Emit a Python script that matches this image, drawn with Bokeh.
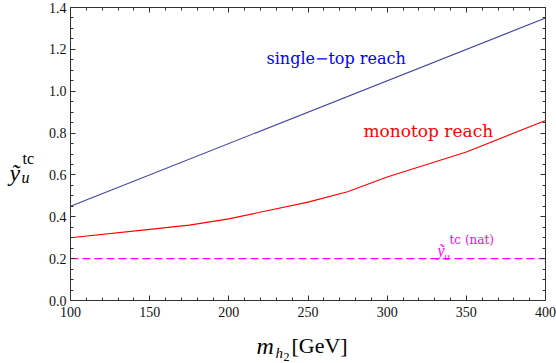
from bokeh.plotting import figure
from bokeh.models import (Range1d, LinearAxis, SingleIntervalTicker, PrintfTickFormatter, Label)
from bokeh.embed import file_html
from bokeh.resources import INLINE

# ---- data ----
mass_single = [100, 400]
single_top = [0.45, 1.35]

mass_mono = [100, 150, 175, 200, 250, 275, 300, 350, 400]
monotop = [0.30, 0.34, 0.36, 0.39, 0.47, 0.52, 0.59, 0.71, 0.86]

mass_nat = [100, 400]
y_nat = [0.20, 0.20]

X_MIN, X_MAX = 100, 400
Y_MIN, Y_MAX = 0.0, 1.4

FONT = "Liberation Serif"
AFONT = "DejaVu Serif"
FRAME = "#333333"

W, H = 556, 363
# where the plotting box sits inside the canvas (pixels)
BOX_L, BOX_R, BOX_T, BOX_B = 70, 545, 7, 300
ux = (X_MAX - X_MIN) / (BOX_R - BOX_L)
uy = (Y_MAX - Y_MIN) / (BOX_B - BOX_T)

p = figure(width=W, height=H, output_backend="svg", toolbar_location=None,
           x_range=Range1d(X_MIN - BOX_L * ux, X_MAX + (W - BOX_R) * ux),
           y_range=Range1d(Y_MIN - (H - BOX_B) * uy, Y_MAX + BOX_T * uy),
           min_border=0, x_axis_type=None, y_axis_type=None)
p.grid.visible = False
p.outline_line_color = None
p.background_fill_color = "white"
p.border_fill_color = "white"

xt = SingleIntervalTicker(interval=50, num_minor_ticks=5)
yt = SingleIntervalTicker(interval=0.2, num_minor_ticks=4)
EPS = 1e-9

def make_axis(side, ticker, loc, bounds, labels, **kw):
    ax = LinearAxis(ticker=ticker, fixed_location=loc, bounds=bounds, **kw)
    ax.axis_line_color = FRAME
    ax.major_tick_line_color = FRAME
    ax.minor_tick_line_color = FRAME
    ax.major_tick_in = 5
    ax.major_tick_out = 0
    ax.minor_tick_in = 3
    ax.minor_tick_out = 0
    if labels:
        ax.major_label_text_font = FONT
        ax.major_label_text_font_size = "14px"
        ax.major_label_text_color = "#111111"
    else:
        ax.major_label_text_font_size = "0px"
        ax.major_label_standoff = 0
        ax.major_label_text_alpha = 0
    p.add_layout(ax, side)
    return ax

xb = make_axis("below", xt, Y_MIN, (X_MIN - EPS, X_MAX + EPS), True)
xb.major_label_standoff = 6
yl = make_axis("left", yt, X_MIN, (Y_MIN - EPS, Y_MAX + EPS), True,
               formatter=PrintfTickFormatter(format="%.1f"))
yl.major_label_standoff = 4
make_axis("above", xt, Y_MAX, (X_MIN - EPS, X_MAX + EPS), False)
make_axis("right", yt, X_MAX, (Y_MIN - EPS, Y_MAX + EPS), False)

p.line(mass_single, single_top, line_color="#4040a0", line_width=1.1)
p.line(mass_mono, monotop, line_color="#ff0000", line_width=1.1)
p.line(mass_nat, y_nat, line_color="#ff00ff", line_width=1.2, line_dash="8 4")

def lab(x, y, t, size, color="black", style="normal", font=FONT, units="data"):
    p.add_layout(Label(x=x, y=y, text=t, text_font=font, text_font_size=size,
                       text_color=color, text_font_style=style,
                       x_units=units, y_units=units,
                       text_align="left", text_baseline="alphabetic"))

# in-plot annotations (data units)
lab(223.8, 1.156, "single\u2212top reach", "16px", "#0000ff", font=AFONT)
lab(285.0, 0.812, "monotop reach", "17px", "#ff0000", font=AFONT)
lab(331.8, 0.239, "\u1ef9", "16px", "#ff00ff", "italic")
lab(336.0, 0.215, "u", "11px", "#ff00ff", "italic")
lab(339.4, 0.291, "tc (nat)", "12px", "#ff00ff", font=AFONT)

# x axis title: m_{h2}[GeV]   (screen units from the canvas bottom-left)
lab(256, 18, "m", "24px", "black", "italic", units="screen")
lab(275, 11, "h", "15px", "black", "italic", units="screen")
lab(283, 7, "2", "12px", "black", units="screen")
lab(291, 18, "[GeV]", "22px", "black", units="screen")

# y axis title: y~_u^tc
lab(9, 191, "\u1ef9", "24px", "black", "italic", units="screen")
lab(21, 186, "u", "16px", "black", "italic", units="screen")
lab(22, 205, "tc", "16px", "black", units="screen")

open("out.html", "w").write(file_html(p, INLINE))
